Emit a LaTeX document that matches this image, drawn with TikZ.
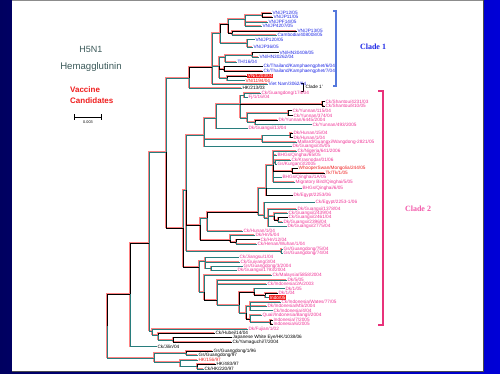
\documentclass[tikz,border=0pt]{standalone}
\usepackage{fontspec}
\setmainfont{Liberation Sans}
\newfontfamily\serf{Liberation Serif}
\definecolor{bgl}{RGB}{0,0,96}
\definecolor{bgr}{RGB}{0,0,215}
\definecolor{lblue}{RGB}{30,40,230}
\definecolor{lpink}{RGB}{240,50,150}
\definecolor{lred}{RGB}{240,30,30}
\definecolor{tealb}{RGB}{40,125,125}
\definecolor{shred}{RGB}{255,130,130}
\definecolor{titc}{RGB}{60,90,90}
\definecolor{c1br}{RGB}{85,120,220}
\definecolor{c2br}{RGB}{232,50,122}
\begin{document}
\begin{tikzpicture}[x=1pt,y=-1pt,
  lab/.style={anchor=west,inner sep=0.4pt,font=\fontsize{4.7}{5}\selectfont},
  lb/.style={lab,text=lblue},
  lp/.style={lab,text=lpink},
  lr/.style={lab,text=lred},
  lk/.style={lab,text=black},
  lx/.style={lab,fill=lred,text=white,inner sep=0.7pt},
  ip/.style={inner sep=0pt,outer sep=0pt,minimum size=0pt},
  tl/.style={draw=tealb,line width=0.7pt},
  bk/.style={draw=black,line width=0.95pt},
  sh/.style={draw=shred,line width=0.45pt}]
\useasboundingbox (0,0) rectangle (500,374);
% background
\shade[left color=bgl,right color=bgr] (0,0) rectangle (500,374);
\fill[white] (12,0) rectangle (483,371);
\draw[black!70,line width=0.7pt] (483.3,0) -- (483.3,371.3) -- (12,371.3);
\draw[black!45,line width=0.5pt] (12,0.3) -- (483,0.3);
% titles
\node[text=titc,font=\fontsize{9}{10}\selectfont] (t1) at (91,49) {H5N1};
\node[text=titc,font=\fontsize{9.6}{11}\selectfont] (t2) at (91,67) {Hemagglutinin};
\node[anchor=west,inner sep=0pt,text=lred,font=\fontsize{8}{9}\selectfont\bfseries] (t3) at (70,90) {Vaccine};
\node[anchor=west,inner sep=0pt,text=lred,font=\fontsize{8}{9}\selectfont\bfseries] (t4) at (70,101) {Candidates};
\node[ip] (s1) at (74,117) {};
\node[ip] (s2) at (102,117) {};
\draw[black,line width=0.6pt,|-|] (s1) -- (s2);
\node[font=\fontsize{3.8}{4}\selectfont,inner sep=0pt] (s3) at (88,122.5) {0.003};
% clade brackets
\node[ip] (k1a) at (336,11) {};
\node[ip] (k1b) at (336,86) {};
\draw[c1br,line width=1.1pt] ([xshift=-3pt]k1a.center) -- (k1a.center) -- (k1b.center) -- ([xshift=-3pt]k1b.center);
\node[text=lblue,font=\serf\fontsize{8}{9}\selectfont\bfseries] (k1t) at (373,47) {Clade 1};
\node[ip] (k2a) at (383,91) {};
\node[ip] (k2b) at (383,325) {};
\draw[c2br,line width=1.1pt] ([xshift=-5pt]k2a.center) -- (k2a.center) -- (k2b.center) -- ([xshift=-5pt]k2b.center);
\node[text=lpink!80,font=\serf\fontsize{8}{9}\selectfont\bfseries] (k2t) at (418,209) {Clade 2};
\node[ip] (k3a) at (303,83.5) {};
\node[ip] (k3b) at (303,91) {};
\draw[black,line width=0.5pt] ([xshift=-2pt]k3a.center) -- (k3a.center) -- (k3b.center) -- ([xshift=-2pt]k3b.center);
\node[lk] (k3t) at (305,87) {Clade 1'};
% internal nodes
\foreach \n/\x/\y in {R0/107/326,N1/130/294,N2/149/243,N3/166/152,N4/189/78,C1/212/67,
 A/220/33,B/228/24,B1/245/19,B2/262/15,B3/232/33,B4/247/43,D/219/66,D1/225/57,D2/252/55,
 D3/224/69,D4/227/78,Cl2/183/228,U/186/190,U1/204/135,U2/216/118,U3/240/104,U5/244/95.5,
 U6/322/104,U7/247/118,U8/288/113,U9/255/122,U10/262/139,U11/290/135.5,Q/200/225,P/207/218,
 G/258/212,G1/266/188,G6/273/165,G7/275/162,G8/292/171,G2/264/215,G3/268/218,G4/274/216,
 G5/278/220,H/230/240,H1/236/242,Pr51/281/251,L/199/267,L1/205/261,L2/211/268.7,L3/204/292,
 L4/217/300,L5/239/305,L6/254/292,L7/265/295.3,L8/246/313,L9/250/306,L10/250/319,L11/270/322,
 M/152/331,M1/158/335,M2/173/339.9,BB0/154/358,BB1/186/353,BB2/180/362,BB3/197/366.5}
  {\node[ip] (\n) at (\x,\y) {};}
% leaves: clade 1
\node[lb] (l1) at (272,13.3) {VN/JP12/05};
\node[lb] (l2) at (273,17.3) {VN/JP11/05};
\node[lb] (l3) at (268,22.3) {VN/JPF14/05};
\node[lb] (l4) at (262,26.3) {VN/JP4207/05};
\node[lb] (l5) at (297,31) {VN/JP13/05};
\node[lb] (l6) at (277,35) {Cambodia/408008/05};
\node[lb] (l7) at (255,39.7) {VN/JP120/05};
\node[lb] (l8) at (253,47.3) {VN/JP36/05};
\node[lb] (l9) at (279,52.7) {VN/HN30408/05};
\node[lb] (l10) at (259,57.3) {VN/HN30262/04};
\node[lb] (l11) at (237,62) {TH/16/04};
\node[lb] (l12) at (263,66.7) {Ck/Thailand/Kamphaengphet/6/04};
\node[lb] (l13) at (263,71.3) {Ck/Thailand/Kamphaengphet/7/04};
\node[lx] (l14) at (247,76) {VN/1203/04};
\node[lr] (l15) at (245,80.5) {VN/1194/04};
\node[lb] (l16) at (268,84) {Viet Nam/3062/04};
\node[lk] (l17) at (242,88.3) {HK/213/03};
% clade 2
\node[lp] (l18) at (261,93.3) {Ck/Guangdong/174/04};
\node[lp] (l19) at (248,97.7) {Fj/1/16/04};
\node[lp] (l20) at (325,101.7) {Ck/Shantou/4231/03};
\node[lp] (l21) at (325,106) {Ck/Shantou/810/05};
\node[lp] (l22) at (292,110.7) {Ck/Yunnan/115/04};
\node[lp] (l23) at (293,115.7) {Ck/Yunnan/374/04};
\node[lp] (l24) at (278,120) {Dk/Yunnan/6445/2004};
\node[lp] (l25) at (312,124.7) {Ck/Yunnan/493/2005};
\node[lp] (l26) at (248,128.7) {Dk/Guangxi/13/04};
\node[lp] (l27) at (293,133.3) {Dk/Hunan/15/04};
\node[lp] (l28) at (293,137.7) {Dk/Hunan/1/04};
\node[lp] (l29) at (297,142.3) {Mallard/Guangxi/Wangdong-2821/05};
\node[lp] (l30) at (292,146.7) {Dk/Guangxi/35/05};
\node[lp] (l31) at (297,151) {Ck/Nigeria/641/2006};
\node[lp] (l32) at (277,155.3) {BHGs/Qinghai/65/05};
\node[lp] (l33) at (291,160) {Ck/Krasnodar/01/06};
\node[lp] (l34) at (277,164.3) {Gs/Kurgan/3/2005};
\node[lr] (l35) at (298,168.7) {WhooperSwan/Mongolia/244/05};
\node[lr] (l36) at (325,173.3) {Tk/Tk/1/05};
\node[lp] (l37) at (282,177.7) {BHGs/Qinghai/1A/05};
\node[lp] (l38) at (295,182) {Migratory Bird/Qinghai/5/05};
\node[lp] (l39) at (302,188.7) {BHGs/Qinghai/6/05};
\node[lp] (l40) at (293,195.7) {Dk/Egypt/2253/06};
\node[lp] (l41) at (315,202.7) {Ck/Egypt/2253-1/06};
\node[lp] (l42) at (297,209) {Dk/Guangxi/1378/04};
\node[lp] (l43) at (288,213.3) {Ck/Guangxi/2439/04};
\node[lp] (l44) at (288,217.7) {Ck/Guangxi/2461/04};
\node[lp] (l45) at (283,222) {Dk/Guangxi/2396/04};
\node[lp] (l46) at (287,226.7) {Dk/Guangxi/2775/04};
\node[lp] (l47) at (243,231) {Ck/Hunan/1/04};
\node[lp] (l48) at (255,235.3) {Dk/Hn/5/04};
\node[lp] (l49) at (260,239.7) {Ck/Hn/12/04};
\node[lp] (l50) at (257,244.3) {Ck/Henan/Wuhan/1/04};
\node[lp] (l51) at (283,249) {Gs/Guangdong/75/04};
\node[lp] (l52) at (283,253.3) {Gs/Guangdong/74/04};
\node[lp] (l53) at (239,257.7) {Ck/Jiangsu/1/04};
\node[lp] (l54) at (240,262) {Ck/Guiyang/3/04};
\node[lp] (l55) at (243,266.7) {Gs/Guangdong/3/2004};
\node[lp] (l56) at (237,270.7) {Dk/Guangxi/1793/2004};
\node[lp] (l57) at (272,275.3) {Ck/Malaysia/5858/2004};
\node[lp] (l58) at (287,280) {Dk/5/05};
\node[lp] (l59) at (267,284.3) {Ck/Indonesia/2A/2003};
\node[lp] (l60) at (285,288.7) {Dk/1/05};
\node[lp] (l61) at (278,293.3) {Dk/1/04};
\node[lx] (l62) at (269,297.5) {Indo/05};
\node[lp] (l63) at (281,302) {Ck/Indonesia/Wates/77/05};
\node[lp] (l64) at (267,306.3) {Dk/Indonesia/MS/2004};
\node[lp] (l65) at (273,310.7) {Ck/Indonesia/4/04};
\node[lp] (l66) at (262,315.3) {Quail/Indonesia/Bangli/2004};
\node[lp] (l67) at (273,320) {Indonesia/7/2005};
\node[lp] (l68) at (273,324) {Indonesia/6/2005};
\node[lp] (l69) at (248,329) {Dk/Fujian/1/02};
% others
\node[lk] (l70) at (215,333.3) {Ck/Hubei/14/04};
\node[lk] (l71) at (232,337.7) {Japanese White Eye/HK/1038/06};
\node[lk] (l72) at (232,342) {Ck/Yamaguchi/7/2004};
\node[lk] (l73) at (157,346.7) {Ck/Jilin/04};
\node[lk] (l74) at (213,351) {Gs/Guangdong/1/96};
\node[lk] (l75) at (198,355.3) {Gs/Guangdong/97};
\node[lr] (l76) at (198,360) {HK/156/97};
\node[lk] (l77) at (216,364.3) {HK/483/97};
\node[lk] (l78) at (204,369) {Ck/HK/220/97};
% branch lists
\def\TL{R0/BB0,N1/l73,N2/N3,N2/M,N3/N4,N4/l17,C1/A,C1/D,C1/l16,A/B4,B/B1,B1/B2,B1/l3,B1/l4,
 B3/l6,B4/l7,B4/l8,D/D1,D/D4,D1/D2,D1/l11,D2/l10,D4/l15,Cl2/U,U/U1,U/Pr51,U1/U2,U1/U10,U1/l30,
 U2/U3,U2/l26,U3/U5,U3/U7,U5/l18,U5/l19,U7/U8,U7/U9,U9/l25,U10/U11,U10/l29,Q/P,P/l47,G/G1,G/G2,
 G1/G6,G1/l39,G6/l31,G6/l32,G6/G7,G6/l37,G6/l38,G7/l33,G7/l34,G2/l41,G2/G3,G3/l42,G3/G4,G3/l46,
 G4/l43,G5/l45,H/l48,H1/l50,Pr51/l51,Pr51/l52,L/L1,L/L3,L1/l53,L1/l54,L1/L2,L2/l55,L2/l56,L3/l57,
 L4/l58,L4/l59,L4/L5,L5/L8,L6/l60,L7/l62,L8/L9,L9/l63,L9/l64,L9/l65,L10/l66,L10/L11,M/l69,M/M1,
 M1/M2,BB0/BB1,BB0/BB2,BB1/l75,BB2/l76,BB2/BB3,BB3/l78}
\def\BK{R0/N1,N1/N2,N3/Cl2,N4/C1,A/B,B/B3,B2/l1,B2/l2,B3/l5,D/D3,D2/l9,D3/l12,D3/l13,D4/l14,
 Cl2/L,U/Q,U3/U6,U6/l20,U6/l21,U8/l22,U8/l23,U9/l24,U11/l27,U11/l28,Q/H,P/G,G1/l40,G6/G8,G8/l35,
 G8/l36,G4/G5,G5/l44,H/H1,H1/l49,L3/L4,L5/L6,L6/L7,L7/l61,L8/L10,L11/l67,L11/l68,M1/l70,M2/l71,
 M2/l72,BB1/l74,BB3/l77}
\foreach \p/\c in \TL {\draw[sh] ([shift={(-0.75pt,0.75pt)}]\p.center) |- ([shift={(-0.75pt,0.75pt)}]\c.west);}
\foreach \p/\c in \BK {\draw[sh] ([shift={(-0.85pt,0.85pt)}]\p.center) |- ([shift={(-0.85pt,0.85pt)}]\c.west);}
\foreach \p/\c in \TL {\draw[tl] (\p.center) |- (\c.west);}
\foreach \p/\c in \BK {\draw[bk] (\p.center) |- (\c.west);}
\end{tikzpicture}
\end{document}
